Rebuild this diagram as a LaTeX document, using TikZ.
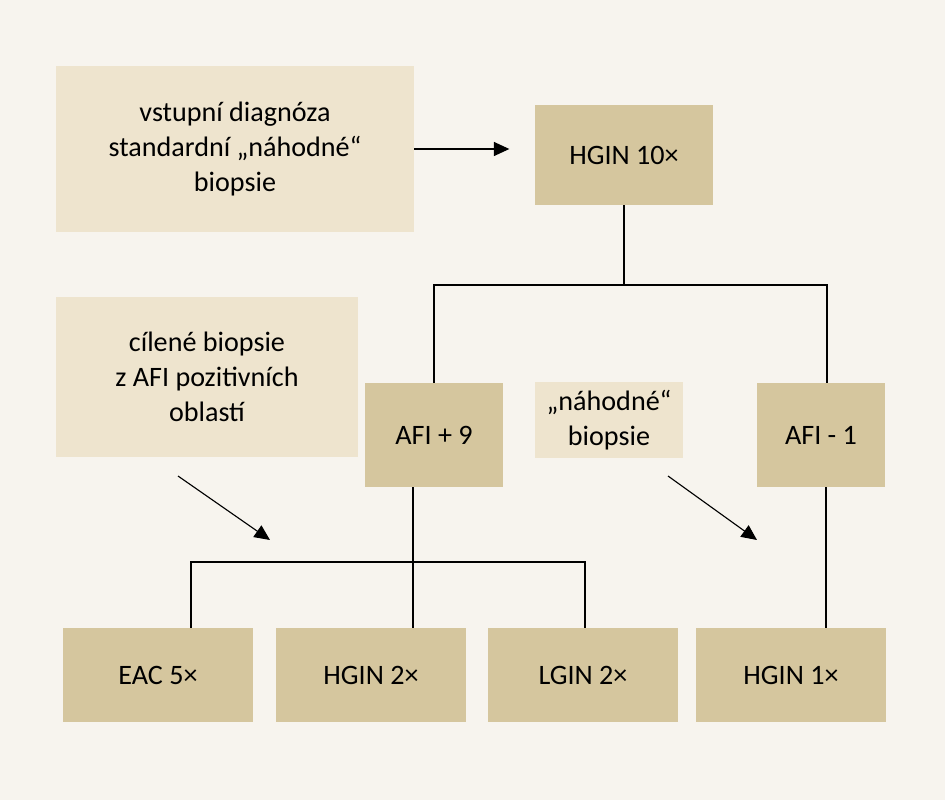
\documentclass[tikz,border=0pt]{standalone}
\usepackage{fontspec}
\setmainfont{Carlito}
\usetikzlibrary{positioning, arrows.meta, calc}
\definecolor{bgcol}{HTML}{F7F4EE}
\definecolor{darkbox}{HTML}{D5C69E}
\definecolor{lightbox}{HTML}{EEE4CE}
\tikzstyle{result} = [rectangle, minimum width=4.75cm, minimum height=2.35cm, text centered, fill=darkbox, font=\fontsize{20}{24}\selectfont]
\tikzstyle{note} = [rectangle, text centered, align=center, fill=lightbox, font=\fontsize{20}{25}\selectfont]
\tikzstyle{line} = [thick, black]
\tikzstyle{arrow} = [thick, -{Triangle[length=11pt, width=10pt]}]

\begin{document}
\begin{tikzpicture}[x=0.025cm, y=-0.025cm]
    \fill[bgcol] (0,0) rectangle (945,800);

        % Nodes
        \node (entry) [note, minimum width=8.95cm, minimum height=4.15cm] at (235,149) {vstupní diagnóza\\standardní „náhodné“\\biopsie};
        \node (hgin10) [result, minimum width=4.45cm, minimum height=2.5cm] at (624,155) {HGIN 10×};
        \node (target) [note, minimum width=7.55cm, minimum height=4cm] at (207,377) {cílené biopsie\\z AFI pozitivních\\oblastí};
        \node (afiplus) [result, minimum width=3.45cm, minimum height=2.6cm] at (434,435) {AFI + 9};
        \node (random) [note, minimum width=3.7cm, minimum height=1.9cm] at (609,420) {„náhodné“\\biopsie};
        \node (afiminus) [result, minimum width=3.2cm, minimum height=2.6cm] at (821,435) {AFI - 1};
        \node (eac) [result] at (158,675) {EAC 5×};
        \node (hgin2) [result] at (371,675) {HGIN 2×};
        \node (lgin2) [result] at (583,675) {LGIN 2×};
        \node (hgin1) [result] at (791,675) {HGIN 1×};

        % Helper points
        \coordinate (split1) at (624,285);
        \coordinate (split2) at (413,562);
        \coordinate (arrA) at (178,476);
        \coordinate (arrB) at (668,476);

        % Lines
        \draw [line] (hgin10.south) -- (split1);
        \draw [line] (afiplus.north) |- (split1) -| ($(afiminus.north)+(6,0)$);
        \draw [line] ($(afiplus.south)+(-21,0)$) -- ($(hgin2.north)+(42,0)$);
        \draw [line] ($(eac.north)+(33,0)$) |- (split2) -| ($(lgin2.north)+(2,0)$);
        \draw [line] ($(afiminus.south)+(5,0)$) -- ($(hgin1.north)+(35,0)$);

        % Arrows
        \draw [arrow] (entry.east) -- ++(95,0);
        \draw [arrow] (arrA) -- ++(92,64);
        \draw [arrow] (arrB) -- ++(89,64);
    \end{tikzpicture}
\end{document}
